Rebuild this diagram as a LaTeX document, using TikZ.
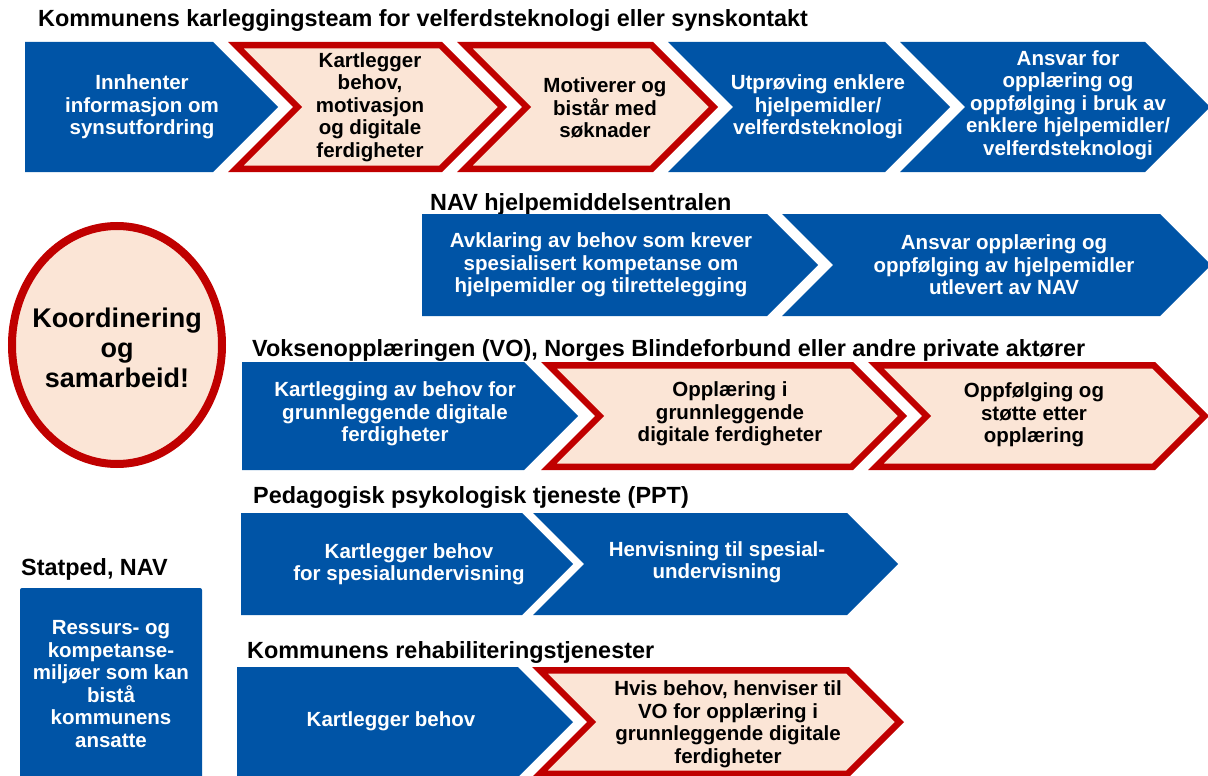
\documentclass[tikz,border=0pt]{standalone}
\usepackage{fontspec}
\setmainfont{Liberation Sans}
\definecolor{blueF}{RGB}{0,84,166}
\definecolor{redF}{RGB}{192,0,0}
\definecolor{paleF}{RGB}{251,229,214}
\newcommand\bxfont{\fontsize{20.5}{22.5}\selectfont\bfseries}
\newcommand\ttlfont{\fontsize{23.4}{26}\selectfont\bfseries}
\newcommand\bluepent[4]{\fill[blueF] (#1,#3) -- (#2,#3) -- ({#2+(#4-#3)/2},{(#3+#4)/2}) -- (#2,#4) -- (#1,#4) -- cycle;}
\newcommand\bluechev[4]{\fill[blueF] (#1,#3) -- (#2,#3) -- ({#2+(#4-#3)/2},{(#3+#4)/2}) -- (#2,#4) -- (#1,#4) -- ({#1+(#4-#3)/2},{(#3+#4)/2}) -- cycle;}
\newcommand\redchev[4]{\filldraw[redbox] ({#1+7.85},{#3+3.25}) -- ({#2-1.35},{#3+3.25}) -- ({#2+(#4-#3)/2-4.6},{(#3+#4)/2}) -- ({#2-1.35},{#4-3.25}) -- ({#1+7.85},{#4-3.25}) -- ({#1+(#4-#3)/2+4.6},{(#3+#4)/2}) -- cycle;}
\tikzset{
  redbox/.style={fill=paleF, draw=redF, line width=6.5pt, line join=miter},
  wtxt/.style={text=white, font=\bxfont, align=center, inner sep=0pt},
  ktxt/.style={text=black, font=\bxfont, align=center, inner sep=0pt},
  ttl/.style={text=black, font=\ttlfont, anchor=base west, inner sep=0pt},
}
\begin{document}
\begin{tikzpicture}[x=1pt,y=-1pt]
\useasboundingbox (0,0) rectangle (1208,776);
% Row 1
\node[ttl] (t1) at (38,27) {Kommunens karleggingsteam for velferdsteknologi eller synskontakt};
\bluepent{25}{213}{42}{172}
\redchev{228}{442}{42}{172}
\redchev{457}{653}{42}{172}
\bluechev{668}{885}{42}{172}
\bluechev{900}{1145}{42}{172}
\node[wtxt] (a1) at (142,107) {Innhenter\\informasjon om\\synsutfordring};
\node[ktxt] (a2) at (370,107) {Kartlegger\\behov,\\motivasjon\\og digitale\\ferdigheter};
\node[ktxt] (a3) at (605,108) {Motiverer og\\bistår med\\søknader};
\node[wtxt] (a4) at (818,107) {Utprøving enklere\\hjelpemidler/\\velferdsteknologi};
\node[wtxt] (a5) at (1068,105) {Ansvar for\\opplæring og\\oppfølging i bruk av\\enklere hjelpemidler/\\velferdsteknologi};
% Row 2
\node[ttl] (t2) at (430,210) {NAV hjelpemiddelsentralen};
\bluepent{422}{767}{214}{316}
\bluechev{782}{1160}{214}{316}
\node[wtxt] (b1) at (601,265) {Avklaring av behov som krever\\spesialisert kompetanse om\\hjelpemidler og tilrettelegging};
\node[wtxt] (b2) at (1004,265) {Ansvar opplæring og\\oppfølging av hjelpemidler\\utlevert av NAV};
% Circle
\filldraw[fill=paleF, draw=redF, line width=8pt] (117,345) ellipse [x radius=105, y radius=119];
\node[text=black, font=\fontsize{27}{30}\selectfont\bfseries, align=center, inner sep=0pt] (k) at (117,348) {Koordinering\\og\\samarbeid!};
% Row 3
\node[ttl] (t3) at (252,356) {Voksenopplæringen (VO), Norges Blindeforbund eller andre private aktører};
\bluepent{242}{524}{362}{470}
\redchev{541}{853}{362}{470}
\redchev{868}{1155}{362}{470}
\node[wtxt] (c1) at (395,414) {Kartlegging av behov for\\grunnleggende digitale\\ferdigheter};
\node[ktxt] (c2) at (730,414) {Opplæring i\\grunnleggende\\digitale ferdigheter};
\node[ktxt] (c3) at (1034,415) {Oppfølging og\\støtte etter\\opplæring};
% Row 4
\node[ttl] (t4) at (253,503) {Pedagogisk psykologisk tjeneste (PPT)};
\bluepent{241}{522}{513}{615}
\bluechev{533}{847}{513}{615}
\node[wtxt] (d1) at (409,564) {Kartlegger behov\\for spesialundervisning};
\node[wtxt] (d2) at (717,562) {Henvisning til spesial-\\undervisning};
% Statped
\node[ttl] (t6) at (21,575) {Statped, NAV};
\fill[blueF, rounded corners=2pt] (20,588) rectangle (202,800);
\node[wtxt] (s1) at (111,684) {Ressurs- og\\kompetanse-\\miljøer som kan\\bistå\\kommunens\\ansatte};
% Row 5
\node[ttl] (t5) at (247,658) {Kommunens rehabiliteringstjenester};
\bluepent{237}{518}{667}{777}
\redchev{532}{849}{667}{777}
\node[wtxt] (e1) at (391,721) {Kartlegger behov};
\node[ktxt] (e2) at (728,724) {Hvis behov, henviser til\\VO for opplæring i\\grunnleggende digitale\\ferdigheter};
\end{tikzpicture}
\end{document}
